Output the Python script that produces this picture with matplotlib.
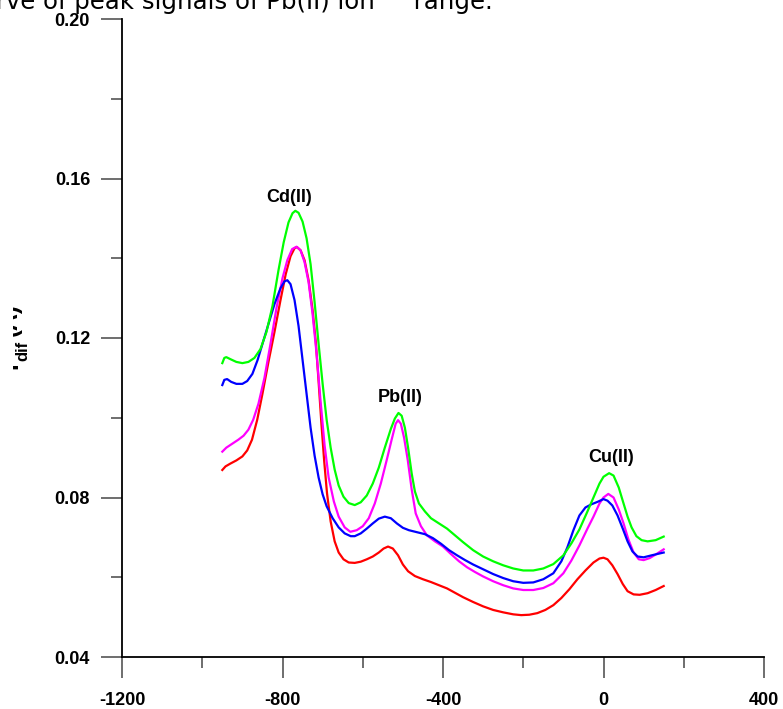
import matplotlib
matplotlib.use("Agg")
import matplotlib.pyplot as plt
from matplotlib.patches import Rectangle
from matplotlib.ticker import MultipleLocator

plt.rcParams["font.family"] = ["Liberation Sans", "DejaVu Sans"]
plt.rcParams["axes.unicode_minus"] = False

# potential (mV) and differential current readings for each trace
red_x = [-950, -942, -930, -915, -900, -888, -876, -863, -850, -835, -820, -805, -792, -780,
         -770, -764, -755, -745, -735, -725, -717, -710, -703, -696, -689, -680, -670, -660,
         -648, -635, -620, -605, -590, -575, -560, -548, -537, -525, -512, -500, -487, -470,
         -450, -430, -410, -390, -370, -350, -325, -300, -275, -250, -225, -205, -185, -165,
         -145, -125, -105, -85, -65, -45, -25, -10, 0, 10, 22, 35, 48, 60, 75, 90, 110, 130,
         150]
red_y = [0.0869, 0.0878, 0.0885, 0.0893, 0.0903, 0.0918, 0.0945, 0.0995, 0.1060, 0.1140,
         0.1215, 0.1295, 0.1360, 0.1405, 0.1425, 0.1428, 0.1420, 0.1395, 0.1345, 0.1270,
         0.1190, 0.1090, 0.0985, 0.0890, 0.0810, 0.0740, 0.0690, 0.0662, 0.0645, 0.0637,
         0.0636, 0.0639, 0.0645, 0.0652, 0.0662, 0.0672, 0.0677, 0.0672, 0.0655, 0.0632,
         0.0615, 0.0603, 0.0595, 0.0588, 0.0580, 0.0572, 0.0561, 0.0550, 0.0538, 0.0527,
         0.0518, 0.0512, 0.0507, 0.0505, 0.0506, 0.0510, 0.0518, 0.0530, 0.0548, 0.0570,
         0.0595, 0.0617, 0.0637, 0.0647, 0.0649, 0.0645, 0.0630, 0.0608, 0.0583, 0.0565,
         0.0557, 0.0556, 0.0560, 0.0568, 0.0578]

magenta_x = [-950, -940, -925, -910, -897, -885, -873, -860, -845, -830, -815, -800, -788,
             -776, -765, -755, -745, -735, -725, -715, -705, -695, -685, -672, -660, -645,
             -631, -615, -600, -585, -570, -555, -540, -528, -518, -512, -505, -497, -488,
             -478, -468, -455, -440, -420, -400, -380, -360, -340, -320, -300, -275, -250,
             -225, -200, -175, -150, -125, -100, -80, -60, -40, -25, -10, 0, 12, 25, 38, 50,
             62, 75, 88, 100, 115, 130, 150]
magenta_y = [0.0915, 0.0925, 0.0935, 0.0945, 0.0955, 0.0970, 0.0995, 0.1035, 0.1100, 0.1185,
             0.1275, 0.1350, 0.1395, 0.1423, 0.1429, 0.1420, 0.1390, 0.1340, 0.1260, 0.1160,
             0.1040, 0.0930, 0.0850, 0.0790, 0.0752, 0.0725, 0.0714, 0.0718, 0.0728, 0.0748,
             0.0785, 0.0835, 0.0895, 0.0945, 0.0985, 0.0994, 0.0985, 0.0950, 0.0895, 0.0820,
             0.0760, 0.0728, 0.0705, 0.0690, 0.0677, 0.0658, 0.0640, 0.0625, 0.0613, 0.0602,
             0.0590, 0.0580, 0.0572, 0.0568, 0.0568, 0.0573, 0.0585, 0.0610, 0.0642, 0.0680,
             0.0722, 0.0752, 0.0785, 0.0800, 0.0809, 0.0800, 0.0770, 0.0735, 0.0695, 0.0662,
             0.0645, 0.0643, 0.0648, 0.0657, 0.0670]

blue_x = [-950, -945, -938, -928, -915, -900, -888, -875, -862, -850, -835, -820, -805, -795,
          -788, -780, -770, -760, -750, -740, -730, -720, -710, -700, -690, -675, -660, -645,
          -630, -620, -605, -590, -575, -560, -545, -530, -515, -500, -485, -465, -445, -425,
          -405, -385, -365, -345, -325, -300, -275, -250, -225, -200, -175, -150, -125, -105,
          -90, -75, -60, -45, -30, -15, 0, 10, 22, 35, 48, 60, 72, 85, 100, 120, 150]
blue_y = [0.1082, 0.1095, 0.1097, 0.1090, 0.1085, 0.1085, 0.1092, 0.1110, 0.1145, 0.1185,
          0.1235, 0.1285, 0.1325, 0.1342, 0.1345, 0.1335, 0.1295, 0.1230, 0.1145, 0.1060,
          0.0975, 0.0905, 0.0850, 0.0808, 0.0778, 0.0748, 0.0725, 0.0710, 0.0703, 0.0703,
          0.0710, 0.0722, 0.0735, 0.0747, 0.0752, 0.0748, 0.0735, 0.0724, 0.0718, 0.0713,
          0.0708, 0.0698, 0.0684, 0.0668, 0.0655, 0.0643, 0.0632, 0.0620, 0.0608, 0.0598,
          0.0590, 0.0586, 0.0587, 0.0595, 0.0610, 0.0640, 0.0675, 0.0718, 0.0755, 0.0775,
          0.0783, 0.0789, 0.0796, 0.0792, 0.0780, 0.0755, 0.0722, 0.0690, 0.0665, 0.0652,
          0.0650, 0.0655, 0.0662]

green_x = [-950, -945, -940, -930, -915, -900, -885, -870, -855, -840, -825, -810, -797, -785,
           -775, -768, -760, -750, -740, -730, -720, -710, -700, -690, -680, -670, -660, -648,
           -635, -620, -605, -590, -575, -560, -545, -530, -520, -511, -503, -495, -487, -478,
           -470, -460, -445, -430, -410, -390, -370, -350, -325, -300, -275, -250, -225, -200,
           -175, -150, -125, -100, -80, -60, -40, -25, -10, 0, 14, 25, 38, 50, 60, 70, 82, 95,
           110, 130, 150]
green_y = [0.1137, 0.1150, 0.1152, 0.1147, 0.1140, 0.1137, 0.1140, 0.1150, 0.1172, 0.1215,
           0.1280, 0.1370, 0.1440, 0.1490, 0.1513, 0.1519, 0.1514, 0.1492, 0.1450, 0.1385,
           0.1290, 0.1185, 0.1085, 0.0995, 0.0925, 0.0870, 0.0830, 0.0802, 0.0786, 0.0781,
           0.0788, 0.0805, 0.0835, 0.0875, 0.0925, 0.0972, 0.0998, 0.1012, 0.1005, 0.0975,
           0.0925, 0.0860, 0.0815, 0.0785, 0.0765, 0.0748, 0.0735, 0.0722, 0.0705, 0.0688,
           0.0668, 0.0652, 0.0640, 0.0630, 0.0622, 0.0617, 0.0617, 0.0622, 0.0633, 0.0655,
           0.0685, 0.0720, 0.0765, 0.0800, 0.0835, 0.0852, 0.0861, 0.0855, 0.0825, 0.0785,
           0.0752, 0.0725, 0.0703, 0.0693, 0.0690, 0.0693, 0.0702]

peak_names = ["Cd(II)", "Pb(II)", "Cu(II)"]
peak_x = [-783, -506, 20]
peak_y = [0.1552, 0.1050, 0.0900]

fig = plt.figure(figsize=(7.83, 7.09), dpi=100)
ax = fig.add_axes([122 / 783, 1 - 657 / 709, 642 / 783, 638 / 709])

ax.plot(red_x, red_y, color="#ff0000", lw=1.6)
ax.plot(magenta_x, magenta_y, color="#ff00ff", lw=1.6)
ax.plot(blue_x, blue_y, color="#0000ff", lw=1.6)
ax.plot(green_x, green_y, color="#00ff00", lw=1.6)

for name, px, py in zip(peak_names, peak_x, peak_y):
    ax.text(px, py, name, ha="center", va="center", fontsize=13, fontweight="bold")

ax.set_xlim(-1200, 400)
ax.set_ylim(0.04, 0.20)
ax.xaxis.set_major_locator(MultipleLocator(400))
ax.xaxis.set_minor_locator(MultipleLocator(200))
ax.yaxis.set_major_locator(MultipleLocator(0.04))
ax.yaxis.set_minor_locator(MultipleLocator(0.02))
ax.yaxis.set_major_formatter(plt.FuncFormatter(lambda v, p: f"{v:.2f}"))
ax.spines["top"].set_visible(False)
ax.spines["right"].set_visible(False)
ax.spines["left"].set_linewidth(1.3)
ax.spines["bottom"].set_linewidth(1.3)
ax.tick_params(which="major", direction="out", length=15, width=1.2, color="#555555",
               labelsize=13, pad=8)
ax.tick_params(which="minor", direction="out", length=8, width=1.2, color="#555555")
ax.tick_params(axis="x", which="major", pad=10)
for lab in ax.get_xticklabels() + ax.get_yticklabels():
    lab.set_fontweight("bold")

# caption and y label are cut off in the source image, keep them cropped the same way
fig.text(493 / 783, 1 - 9 / 709, "Fig. 4. Curve of peak signals of Pb(II) ion     range.",
         ha="right", va="baseline", fontsize=17.6, family=["DejaVu Sans"])
# y label I_dif(A): main letters and the lowered subscript
fig.text(22 / 783, 1 - 369 / 709, "I", rotation=90, ha="right", va="bottom",
         fontsize=17, fontweight="bold")
fig.text(30 / 783, 1 - 361 / 709, "dif", rotation=90, ha="right", va="bottom",
         fontsize=12, fontweight="bold")
fig.text(22 / 783, 1 - 336 / 709, "(A)", rotation=90, ha="right", va="bottom",
         fontsize=17, fontweight="bold")
fig.patches.append(Rectangle((0, 1 - 400 / 709), 13 / 783, 120 / 709,
                             transform=fig.transFigure, facecolor="white",
                             edgecolor="none", zorder=10))

fig.savefig("out.png", dpi=100)
